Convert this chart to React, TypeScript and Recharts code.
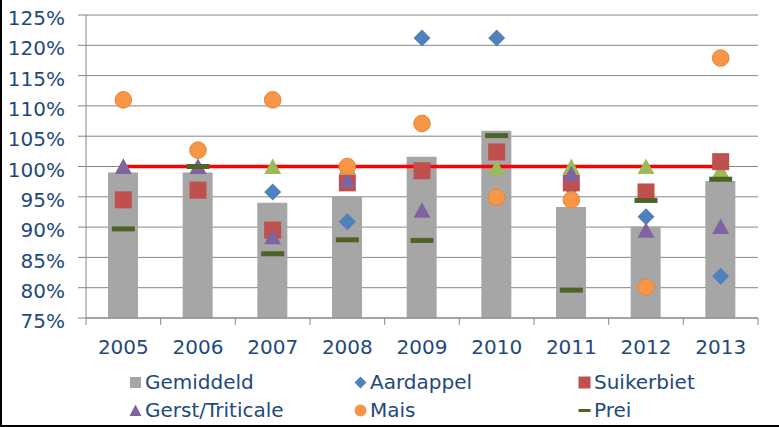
import React from 'react';
import { ComposedChart, Bar, Line, Scatter, XAxis, YAxis, CartesianGrid, Legend } from 'recharts';

const YEARS = ['2005', '2006', '2007', '2008', '2009', '2010', '2011', '2012', '2013'];
const GEMIDDELD = [99, 99, 94, 95, 101.6, 105.9, 93.3, 90.1, 97.6];
const AARDAPPEL: (number | null)[] = [null, null, 95.8, 90.9, 121.2, 121.2, 96.5, 91.7, 81.9];
const SUIKERBIET = [94.5, 96.1, 89.5, 97.3, 99.3, 102.4, 97.3, 95.8, 100.8];
const GERST: (number | null)[] = [100, 100, 88.4, 97.8, 92.8, null, 98.8, 89.5, 90.1];
const MAIS = [111, 102.7, 111, 100, 107.1, 94.9, 94.5, 80.1, 117.9];
const PREI = [89.7, 100, 85.6, 87.9, 87.8, 105.1, 79.6, 94.4, 97.9];
const OVERIG = [100, 100, 100, 100, 100, 99.8, 100, 100, 99.4];
const NORM = [100, 100, 100, 100, 100, 100, 100, 100, 100];
const Y_TICKS = [75, 80, 85, 90, 95, 100, 105, 110, 115, 120, 125];

const C_GEM = '#A6A6A6';
const C_AARD = '#4F81BD';
const C_SUIK = '#C0504D';
const C_GERST = '#8064A2';
const C_MAIS = '#F79646';
const C_PREI = '#4F6228';
const C_OVERIG = '#9BBB59';
const C_TEXT = '#1F497D';
const C_GRID = '#868686';
const FONT = '"DejaVu Sans", Verdana, sans-serif';

const LEGEND_ITEMS = [
  { name: 'Gemiddeld', color: C_GEM, kind: 'bar' },
  { name: 'Aardappel', color: C_AARD, kind: 'diamond' },
  { name: 'Suikerbiet', color: C_SUIK, kind: 'square' },
  { name: 'Gerst/Triticale', color: C_GERST, kind: 'triangle' },
  { name: 'Mais', color: C_MAIS, kind: 'circle' },
  { name: 'Prei', color: C_PREI, kind: 'dash' },
];
const LEGEND_COLS = [127, 352, 576];

const data = YEARS.map((year, i) => ({
  year,
  gem: GEMIDDELD[i],
  aard: AARDAPPEL[i],
  suik: SUIKERBIET[i],
  gerst: GERST[i],
  mais: MAIS[i],
  prei: PREI[i],
  overig: OVERIG[i],
  norm: NORM[i],
}));

const ok = (p: any) => p && typeof p.cx === 'number' && typeof p.cy === 'number' && !isNaN(p.cy) && !isNaN(p.cx);

const diamondShape = (color: string) => (p: any) => {
  if (!ok(p)) return <g />;
  const { cx, cy } = p;
  const r = 8.5;
  return <polygon points={`${cx},${cy - r} ${cx + r},${cy} ${cx},${cy + r} ${cx - r},${cy}`} fill={color} />;
};
const squareShape = (color: string) => (p: any) => {
  if (!ok(p)) return <g />;
  return <rect x={p.cx - 8.5} y={p.cy - 8.5} width={17} height={17} fill={color} />;
};
const triangleShape = (color: string) => (p: any) => {
  if (!ok(p)) return <g />;
  const { cx, cy } = p;
  return <polygon points={`${cx},${cy - 8} ${cx + 8.5},${cy + 7.5} ${cx - 8.5},${cy + 7.5}`} fill={color} />;
};
const circleShape = (color: string) => (p: any) => {
  if (!ok(p)) return <g />;
  return <circle cx={p.cx} cy={p.cy} r={8.3} fill={color} stroke="#E5853A" strokeWidth={1} />;
};
const dashShape = (color: string) => (p: any) => {
  if (!ok(p)) return <g />;
  return <rect x={p.cx - 11.5} y={p.cy - 2.5} width={23} height={5} fill={color} />;
};

const YearTick = (props: any) => {
  const { x, y, payload, index, visibleTicksCount, width } = props;
  const half =
    payload && typeof payload.offset === 'number' && payload.offset > 0
      ? payload.offset
      : width / (visibleTicksCount || YEARS.length) / 2;
  const isLast = index === (visibleTicksCount || YEARS.length) - 1;
  return (
    <g>
      <line x1={x - half} x2={x - half} y1={y} y2={y + 7} stroke={C_GRID} strokeWidth={1} />
      {isLast && <line x1={x + half} x2={x + half} y1={y} y2={y + 7} stroke={C_GRID} strokeWidth={1} />}
      <text x={x} y={y + 22} dy="0.71em" textAnchor="middle" fill={C_TEXT} fontSize={20} fontFamily={FONT}>
        {payload.value}
      </text>
    </g>
  );
};

const LegendIcon = ({ kind, color }: { kind: string; color: string }) => {
  let el: React.ReactNode = null;
  if (kind === 'bar') el = <rect x={1} y={1} width={11} height={11} fill={color} />;
  else if (kind === 'square') el = <rect x={0.5} y={0.5} width={12} height={12} fill={color} />;
  else if (kind === 'diamond') el = <polygon points="6.5,0.5 12.5,6.5 6.5,12.5 0.5,6.5" fill={color} />;
  else if (kind === 'triangle') el = <polygon points="6.5,0.5 12.5,12 0.5,12" fill={color} />;
  else if (kind === 'circle') el = <circle cx={6.5} cy={6.5} r={6} fill={color} />;
  else if (kind === 'dash') el = <rect x={0.5} y={5} width={12} height={3} fill={color} />;
  return (
    <svg width={13} height={13} style={{ display: 'block' }}>
      {el}
    </svg>
  );
};

const renderLegend = () => (
  <div style={{ position: 'relative', width: 777, height: 56, fontFamily: FONT, fontSize: 20, color: C_TEXT }}>
    {LEGEND_ITEMS.map((it, i) => {
      const col = i % 3;
      const row = Math.floor(i / 3);
      return (
        <div
          key={it.name}
          style={{
            position: 'absolute',
            left: LEGEND_COLS[col],
            top: row * 28,
            height: 28,
            display: 'flex',
            alignItems: 'center',
            whiteSpace: 'nowrap',
          }}
        >
          <LegendIcon kind={it.kind} color={it.color} />
          <span style={{ marginLeft: 3 }}>{it.name}</span>
        </div>
      );
    })}
  </div>
);

export default function App() {
  return (
    <div
      style={{
        position: 'absolute',
        left: 0,
        top: 0,
        width: 779,
        height: 427,
        boxSizing: 'border-box',
        borderLeft: '2px solid #000',
        borderBottom: '2px solid #000',
        background: '#fff',
      }}
    >
      <ComposedChart width={777} height={425} data={data} margin={{ top: 15, right: 21, bottom: 67, left: 0 }}>
        <CartesianGrid vertical={false} stroke={C_GRID} strokeWidth={1} />
        <XAxis
          xAxisId="cat"
          dataKey="year"
          type="category"
          height={40}
          tickLine={false}
          axisLine={{ stroke: C_GRID }}
          tickSize={0}
          tickMargin={0}
          tick={<YearTick />}
          interval={0}
        />
        <YAxis
          domain={[75, 125]}
          ticks={Y_TICKS}
          width={84}
          tickSize={8}
          tickMargin={13}
          axisLine={{ stroke: C_GRID }}
          tickLine={{ stroke: C_GRID }}
          tickFormatter={(v: number) => `${v}%`}
          tick={{ fill: C_TEXT, fontSize: 20, fontFamily: FONT, dy: 3 }}
          allowDataOverflow
        />
        <Bar xAxisId="cat" dataKey="gem" name="Gemiddeld" fill={C_GEM} barSize={30} isAnimationActive={false} />
        <Line
          xAxisId="cat"
          dataKey="norm"
          stroke="#FF0000"
          strokeWidth={3.5}
          dot={false}
          activeDot={false}
          legendType="none"
          isAnimationActive={false}
        />
        <Scatter xAxisId="cat" dataKey="overig" shape={triangleShape(C_OVERIG)} legendType="none" isAnimationActive={false} />
        <Scatter xAxisId="cat" dataKey="aard" name="Aardappel" shape={diamondShape(C_AARD)} isAnimationActive={false} />
        <Scatter xAxisId="cat" dataKey="suik" name="Suikerbiet" shape={squareShape(C_SUIK)} isAnimationActive={false} />
        <Scatter xAxisId="cat" dataKey="gerst" name="Gerst/Triticale" shape={triangleShape(C_GERST)} isAnimationActive={false} />
        <Scatter xAxisId="cat" dataKey="mais" name="Mais" shape={circleShape(C_MAIS)} isAnimationActive={false} />
        <Scatter xAxisId="cat" dataKey="prei" name="Prei" shape={dashShape(C_PREI)} isAnimationActive={false} />
        <Legend
          layout="horizontal"
          verticalAlign="middle"
          content={renderLegend}
          wrapperStyle={{ top: 368, left: 0, width: 777, height: 56 }}
        />
      </ComposedChart>
    </div>
  );
}
